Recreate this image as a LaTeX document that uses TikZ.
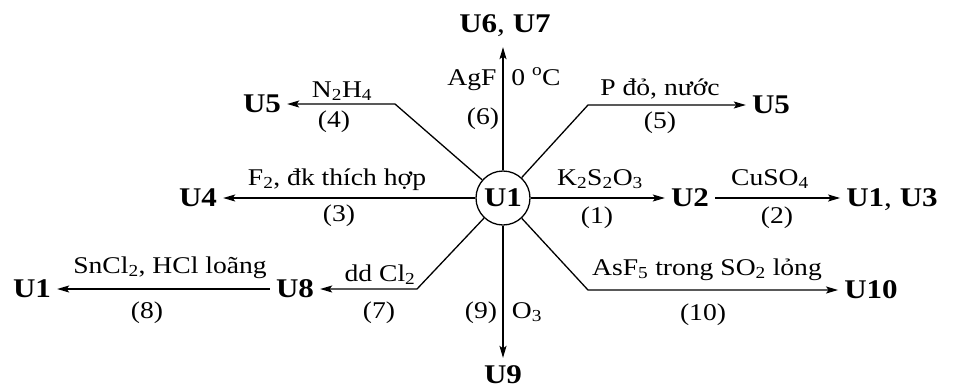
\documentclass[tikz,border=0pt]{standalone}
\usepackage{fontspec}
\setmainfont{Liberation Serif}[FakeStretch=1.15]
\usetikzlibrary{arrows.meta}
\begin{document}
\begin{tikzpicture}[x=1pt,y=-1pt,
  arr/.style={draw, line width=1.3pt, -{Stealth[length=12pt,width=7pt,inset=2.5pt]}},
  ulab/.style={font=\fontsize{27}{27}\selectfont\bfseries, inner xsep=6pt, inner ysep=1pt, text depth=0pt},
  clab/.style={font=\fontsize{24}{24}\selectfont, inner sep=0pt, anchor=base},
  ]
\path[use as bounding box] (0,0) rectangle (954,389);
% central node
\node[circle, draw, line width=1.3pt, minimum size=54pt, inner sep=0pt,
      font=\fontsize{27}{27}\selectfont\bfseries] (u1) at (503,198) {U1};
% product nodes
\node[ulab] (u2) at (690,198) {U2};
\node[ulab] (u13) at (892,198) {U1{\mdseries ,} U3};
\node[ulab] (u5r) at (771,105) {U5};
\node[ulab] (u67) at (505,24) {U6{\mdseries ,} U7};
\node[ulab] (u5l) at (262,104) {U5};
\node[ulab] (u4) at (198,198) {U4};
\node[ulab] (u8) at (295,289) {U8};
\node[ulab] (u1l) at (32,289) {U1};
\node[ulab] (u9) at (503,375) {U9};
\node[ulab] (u10) at (871,290) {U10};
% bends
\coordinate (b4) at (395,104);
\coordinate (b5) at (588,105);
\coordinate (b7) at (417,289);
\coordinate (b10) at (588,290);
% connectors
\draw[arr] (u1) -- (u2);
\draw[arr] (u2) -- (u13);
\draw[arr] (u1) -- (u4);
\draw[arr] (u1) -- (b4) -- (u5l);
\draw[arr] (u1) -- (b5) -- (u5r);
\draw[arr] (u1) -- (b7) -- (u8);
\draw[arr] (u8) -- (u1l);
\draw[arr] (u1) -- (b10) -- (u10);
\draw[arr, shorten >=13pt] (u1) -- (u1 |- u67.south);
\draw[arr, shorten >=7pt] (u1) -- (u1 |- u9.north);
% labels
\node[clab] (t1) at (600,185) {K\textsubscript{2}S\textsubscript{2}O\textsubscript{3}};
\node[clab] (n1) at (597,223) {(1)};
\node[clab] (t2) at (770,185) {CuSO\textsubscript{4}};
\node[clab] (n2) at (777,223) {(2)};
\node[clab] (t3) at (337,185) {F\textsubscript{2}, đk thích hợp};
\node[clab] (n3) at (339,221) {(3)};
\node[clab] (t4) at (342,97) {N\textsubscript{2}H\textsubscript{4}};
\node[clab] (n4) at (334,127) {(4)};
\node[clab] (t5) at (660,95) {P đỏ, nước};
\node[clab] (n5) at (660,128) {(5)};
\node[clab] (t6a) at (472,85) {AgF};
\node[clab] (t6b) at (536,85) {0 \textsuperscript{o}C};
\node[clab] (n6) at (483,124) {(6)};
\node[clab] (t7) at (380,281) {dd Cl\textsubscript{2}};
\node[clab] (n7) at (379,318) {(7)};
\node[clab] (t8) at (170,273) {SnCl\textsubscript{2}, HCl loãng};
\node[clab] (n8) at (147,318) {(8)};
\node[clab] (n9) at (481,318) {(9)};
\node[clab] (t9) at (527,318) {O\textsubscript{3}};
\node[clab] (t10) at (707,275) {AsF\textsubscript{5} trong SO\textsubscript{2} lỏng};
\node[clab] (n10) at (703,320) {(10)};
\end{tikzpicture}
\end{document}
